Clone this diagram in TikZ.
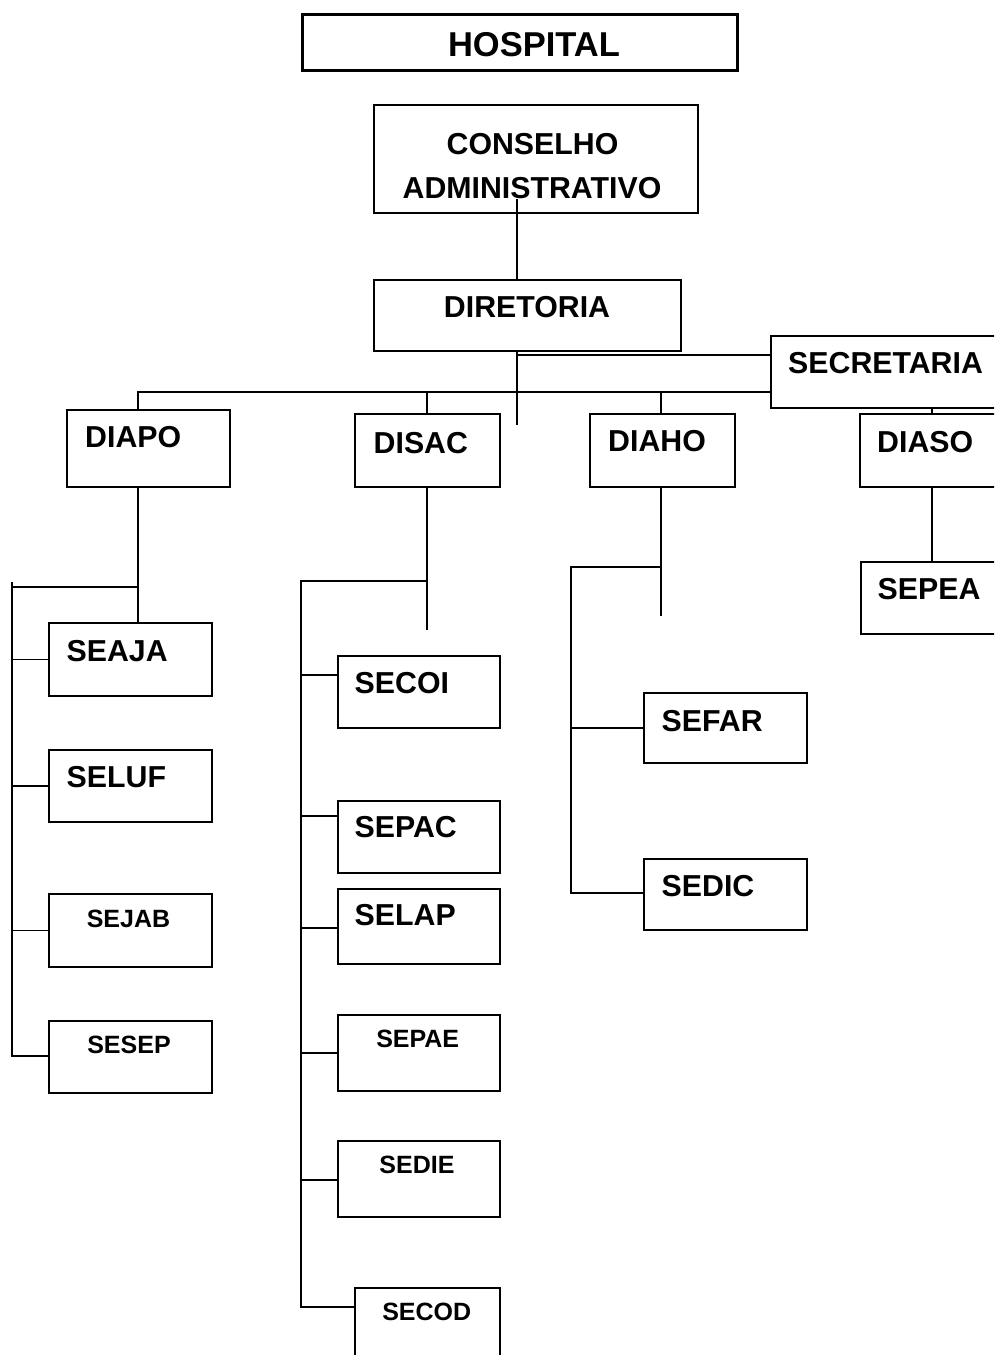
\documentclass[tikz,border=0pt]{standalone}
\usepackage{fontspec}
\setmainfont{Liberation Sans}
\begin{document}
\begin{tikzpicture}[x=1pt,y=-1pt,
  box/.style={draw, line width=1.5pt, inner sep=0pt, anchor=north west},
  conn/.style={line width=1.5pt},
  big/.style={font=\fontsize{30.3}{36}\selectfont\bfseries, inner sep=0pt},
  small/.style={font=\fontsize{25}{30}\selectfont\bfseries, inner sep=0pt},
  huge/.style={font=\fontsize{34.5}{41}\selectfont\bfseries, inner sep=0pt}]
\useasboundingbox (0,0) rectangle (994,1355);
\clip (0,0) rectangle (994,1355);
% boxes
\node[box, line width=3pt, minimum width=435pt, minimum height=56pt] (hosp) at (301,13) {};
\node[box, minimum width=324pt, minimum height=108pt] (cons) at (373,104) {};
\node[box, minimum width=307pt, minimum height=71pt] (dir) at (373,279) {};
\node[box, minimum width=240pt, minimum height=72pt] (sec) at (770,335) {};
\node[box, minimum width=163pt, minimum height=77pt] (diapo) at (66,409) {};
\node[box, minimum width=145pt, minimum height=73pt] (disac) at (354,413) {};
\node[box, minimum width=145pt, minimum height=73pt] (diaho) at (589,413) {};
\node[box, minimum width=151pt, minimum height=73pt] (diaso) at (859,413) {};
\node[box, minimum width=163pt, minimum height=73pt] (seaja) at (48,622) {};
\node[box, minimum width=163pt, minimum height=72pt] (seluf) at (48,749) {};
\node[box, minimum width=163pt, minimum height=73pt] (sejab) at (48,893) {};
\node[box, minimum width=163pt, minimum height=72pt] (sesep) at (48,1020) {};
\node[box, minimum width=162pt, minimum height=72pt] (secoi) at (337,655) {};
\node[box, minimum width=162pt, minimum height=72pt] (sepac) at (337,800) {};
\node[box, minimum width=162pt, minimum height=75pt] (selap) at (337,888) {};
\node[box, minimum width=162pt, minimum height=76pt] (sepae) at (337,1014) {};
\node[box, minimum width=162pt, minimum height=76pt] (sedie) at (337,1140) {};
\node[box, minimum width=145pt, minimum height=90pt] (secod) at (354,1287) {};
\node[box, minimum width=163pt, minimum height=70pt] (sefar) at (643,692) {};
\node[box, minimum width=163pt, minimum height=71pt] (sedic) at (643,858) {};
\node[box, minimum width=150pt, minimum height=72pt] (sepea) at (860,561) {};
% texts
\node[huge] (thosp) at (534,44.5) {HOSPITAL};
\node[big] (tcons1) at (532.5,144.5) {CONSELHO};
\node[big] (tcons2) at (532,188) {ADMINISTRATIVO};
\node[big] (tdir) at (527,307) {DIRETORIA};
\node[big, anchor=west] (tsec) at (788,363) {SECRETARIA};
\node[big, anchor=west] (tdiapo) at (85,437) {DIAPO};
\node[big, anchor=west] (tdisac) at (373.5,443) {DISAC};
\node[big, anchor=west] (tdiaho) at (608,441.5) {DIAHO};
\node[big, anchor=west] (tdiaso) at (877,442) {DIASO};
\node[big, anchor=west] (tseaja) at (66.5,651.5) {SEAJA};
\node[big, anchor=west] (tseluf) at (66.5,777.5) {SELUF};
\node[small] (tsejab) at (128.5,919) {SEJAB};
\node[small] (tsesep) at (129,1044.5) {SESEP};
\node[big, anchor=west] (tsecoi) at (354.5,683.5) {SECOI};
\node[big, anchor=west] (tsepac) at (354.5,827.5) {SEPAC};
\node[big, anchor=west] (tselap) at (354.5,915) {SELAP};
\node[small] (tsepae) at (417.7,1039) {SEPAE};
\node[small] (tsedie) at (417,1165) {SEDIE};
\node[small] (tsecod) at (426.7,1312) {SECOD};
\node[big, anchor=west] (tsefar) at (661.5,721) {SEFAR};
\node[big, anchor=west] (tsedic) at (661.5,886) {SEDIC};
\node[big, anchor=west] (tsepea) at (877.5,589.5) {SEPEA};
% junction coordinates
\coordinate (cTop) at (517,199);
\coordinate (dEnd) at (517,425);
\coordinate (hSec) at (517,355);
\coordinate (hMain) at (138,392);
\coordinate (xDisac) at (427,392);
\coordinate (xDiaho) at (661,392);
\coordinate (xDiaso) at (932,410);
\coordinate (jA) at (138,587);
\coordinate (jAL) at (12,587);
\coordinate (jATop) at (12,582);
\coordinate (jAEnd) at (12,1056);
\coordinate (jS) at (427,581);
\coordinate (jSL) at (301,581);
\coordinate (jSEnd) at (427,630);
\coordinate (tSecoi) at (301,675);
\coordinate (tSepac) at (301,816);
\coordinate (tSelap) at (301,928);
\coordinate (tSepae) at (301,1053);
\coordinate (tSedie) at (301,1180);
\coordinate (tSecod) at (301,1307);
\coordinate (jH) at (661,567);
\coordinate (jHL) at (571,567);
\coordinate (jHEnd) at (661,616);
\coordinate (tSefar) at (571,728);
\coordinate (tSedic) at (571,893);
% connectors
\draw[conn] (cTop) -- (cTop |- dir.north);
\draw[conn] (cTop |- dir.south) -- (dEnd);
\draw[conn] (hSec) -- (hSec -| sec.west);
\draw[conn] (hMain -| sec.west) -- (hMain) -- (hMain |- diapo.north);
\draw[conn] (xDisac) -- (xDisac |- disac.north);
\draw[conn] (xDiaho) -- (xDiaho |- diaho.north);
\draw[conn] (xDiaso |- sec.south) -- (xDiaso |- diaso.north);
% DIAPO branch
\draw[conn] (jA |- diapo.south) -- (jA |- seaja.north);
\draw[conn] (jA) -- (jAL);
\draw[conn] (jATop) -- (jAEnd) -- (jAEnd -| sesep.west);
\draw[conn] (jAL |- seaja.west) -- (seaja.west);
\draw[conn] (jAL |- seluf.west) -- (seluf.west);
\draw[conn] (jAL |- sejab.west) -- (sejab.west);
% DISAC branch
\draw[conn] (jS |- disac.south) -- (jSEnd);
\draw[conn] (jS) -- (jSL) -- (tSecod) -- (tSecod -| secod.west);
\draw[conn] (tSecoi) -- (tSecoi -| secoi.west);
\draw[conn] (tSepac) -- (tSepac -| sepac.west);
\draw[conn] (tSelap) -- (tSelap -| selap.west);
\draw[conn] (tSepae) -- (tSepae -| sepae.west);
\draw[conn] (tSedie) -- (tSedie -| sedie.west);
% DIAHO branch
\draw[conn] (jH |- diaho.south) -- (jHEnd);
\draw[conn] (jH) -- (jHL) -- (tSedic) -- (tSedic -| sedic.west);
\draw[conn] (tSefar) -- (tSefar -| sefar.west);
% DIASO branch
\draw[conn] (xDiaso |- diaso.south) -- (xDiaso |- sepea.north);
\end{tikzpicture}
\end{document}
